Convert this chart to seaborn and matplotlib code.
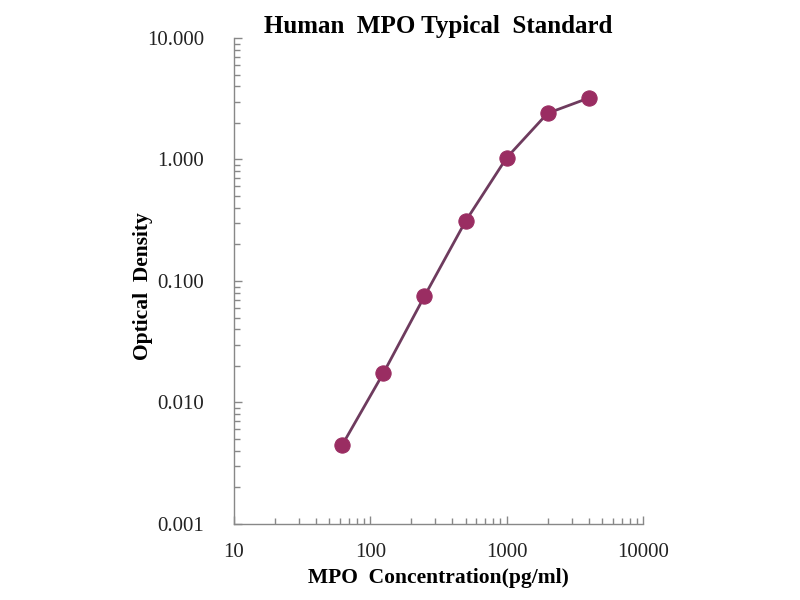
import numpy as np
import pandas as pd
import matplotlib
matplotlib.use("Agg")
import matplotlib.pyplot as plt
import matplotlib.ticker as ticker
import seaborn as sns

# standard curve values
concentration = [62.5, 125, 250, 500, 1000, 2000, 4000]
optical_density = [0.0045, 0.0175, 0.075, 0.31, 1.03, 2.4, 3.2]

x_ticks = [10, 100, 1000, 10000]
y_ticks = [0.001, 0.01, 0.1, 1, 10]

df = pd.DataFrame({"conc": concentration, "od": optical_density})

sns.set_style("white")
plt.rcParams["font.family"] = ["Liberation Serif", "DejaVu Serif"]
plt.rcParams["text.color"] = "black"
plt.rcParams["axes.labelcolor"] = "black"
plt.rcParams["xtick.color"] = "#222222"
plt.rcParams["ytick.color"] = "#222222"

fig = plt.figure(figsize=(8, 6), dpi=100)
ax = fig.add_axes([0.2925, 0.1267, 0.511, 0.81])

sns.lineplot(data=df, x="conc", y="od", ax=ax, color="#6e3b5e", linewidth=2,
             marker="o", markersize=11, markerfacecolor="#9a2d62",
             markeredgecolor="#9a2d62")

ax.set_xscale("log")
ax.set_yscale("log")
ax.set_xlim(10, 10000)
ax.set_ylim(0.001, 10)

ax.set_xticks(x_ticks)
ax.set_xticklabels([str(v) for v in x_ticks])
ax.set_yticks(y_ticks)
ax.set_yticklabels([f"{v:.3f}" for v in y_ticks])
ax.xaxis.set_minor_locator(ticker.LogLocator(base=10, subs=np.arange(2, 10)))
ax.yaxis.set_minor_locator(ticker.LogLocator(base=10, subs=np.arange(2, 10)))
ax.xaxis.set_minor_formatter(ticker.NullFormatter())
ax.yaxis.set_minor_formatter(ticker.NullFormatter())

ax.tick_params(axis="both", which="both", bottom=True, left=True,
               direction="in", width=1, color="#888888")
ax.tick_params(axis="both", which="major", length=6, labelsize=15)
ax.tick_params(axis="both", which="minor", length=4)
ax.tick_params(axis="y", which="major", pad=21.5)
ax.tick_params(axis="x", which="major", pad=14)

for side in ["top", "right"]:
    ax.spines[side].set_visible(False)
for side in ["left", "bottom"]:
    ax.spines[side].set_color("#888888")
    ax.spines[side].set_linewidth(1)

ax.set_xlabel("MPO  Concentration(pg/ml)", fontsize=15.5, fontweight="bold", labelpad=4)
ax.set_ylabel("Optical  Density", fontsize=15.5, fontweight="bold")
ax.yaxis.set_label_coords(-0.198, 0.49)
ax.set_title("Human  MPO Typical  Standard", fontsize=18, fontweight="bold", pad=3)

fig.savefig("out.png", dpi=100)
